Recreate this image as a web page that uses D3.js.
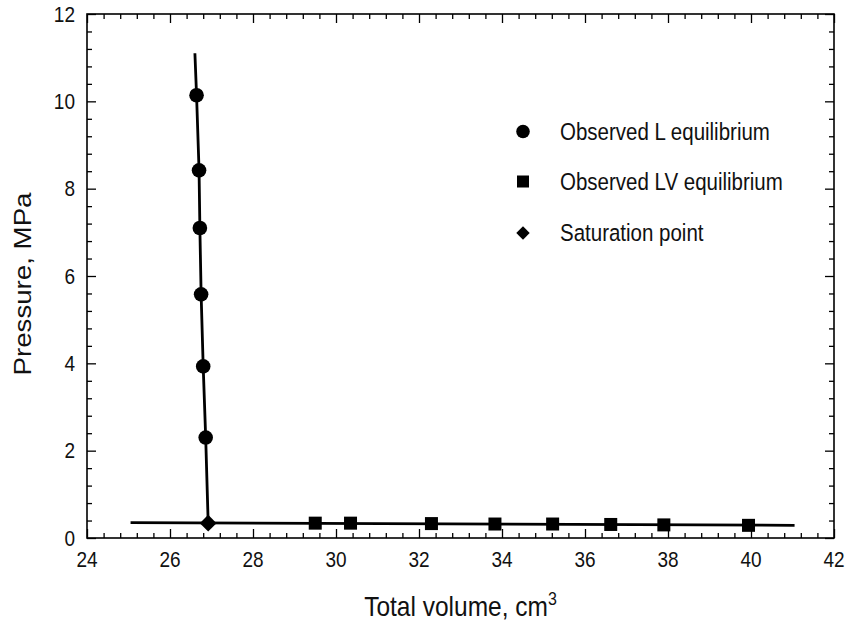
<!DOCTYPE html>
<html><head><meta charset="utf-8">
<script src="https://cdn.jsdelivr.net/npm/d3@7"></script>
<style>body{margin:0;background:#fff}svg{display:block}text{font-family:"Liberation Sans",Arial,sans-serif}</style>
</head><body><svg id="c" width="849" height="625"></svg>
<script>
const lVol = [26.64, 26.70, 26.72, 26.75, 26.80, 26.86];
const lPres = [10.14, 8.42, 7.10, 5.58, 3.93, 2.30];
const lvVol = [29.5, 30.35, 32.3, 33.83, 35.22, 36.62, 37.9, 39.94];
const lvPres = [0.34, 0.34, 0.33, 0.32, 0.32, 0.31, 0.30, 0.29];
const satVol = [26.92];
const satPres = [0.34];
const fitLVol = [26.60, 26.64, 26.70, 26.72, 26.75, 26.80, 26.86, 26.92];
const fitLPres = [11.1, 10.14, 8.42, 7.10, 5.58, 3.93, 2.30, 0.34];
const fitLVVol = [25.05, 41.05];
const fitLVPres = [0.35, 0.29];
const xTicks = [24, 26, 28, 30, 32, 34, 36, 38, 40, 42];
const yTicks = [0, 2, 4, 6, 8, 10, 12];
const legendLabels = ["Observed L equilibrium", "Observed LV equilibrium", "Saturation point"];

const SY = 1.13; // vertical stretch of the reference text
const svg = d3.select("#c");
const L = 87, R = 834, T = 14, B = 538;
const x = d3.scaleLinear().domain([24, 42]).range([L, R]);
const y = d3.scaleLinear().domain([0, 12]).range([B, T]);
const g = svg.append("g");

const minorX = d3.range(24, 42.001, 0.4).filter(v => Math.abs(v/2 - Math.round(v/2)) > 1e-6);
const minorY = d3.range(0, 12.001, 0.4).filter(v => Math.abs(v/2 - Math.round(v/2)) > 1e-6);

function ticks(axisGen, tr, vals, size) {
  const a = g.append("g").attr("transform", tr)
    .call(axisGen.tickValues(vals).tickSizeInner(size).tickSizeOuter(0).tickFormat(""));
  a.select(".domain").remove();
  a.selectAll(".tick line").attr("stroke", "#000").attr("stroke-width", 1.3);
  a.selectAll("text").remove();
  return a;
}
ticks(d3.axisBottom(x), `translate(0,${B})`, xTicks, -9);
ticks(d3.axisBottom(x), `translate(0,${B})`, minorX, -5);
ticks(d3.axisTop(x), `translate(0,${T})`, xTicks, -9);
ticks(d3.axisTop(x), `translate(0,${T})`, minorX, -5);
ticks(d3.axisLeft(y), `translate(${L},0)`, yTicks, -9);
ticks(d3.axisLeft(y), `translate(${L},0)`, minorY, -5);
ticks(d3.axisRight(y), `translate(${R},0)`, yTicks, -9);
ticks(d3.axisRight(y), `translate(${R},0)`, minorY, -5);

// tick labels
const TF = 19;
g.selectAll(".xl").data(xTicks).join("text")
  .attr("transform", d => `translate(${x(d)},566.5) scale(1,${SY})`)
  .attr("text-anchor", "middle").attr("font-size", TF).attr("fill", "#111").text(d => d);
g.selectAll(".yl").data(yTicks).join("text")
  .attr("transform", d => `translate(75,${y(d) + 7.6}) scale(1,${SY})`)
  .attr("text-anchor", "end").attr("font-size", TF).attr("fill", "#111").text(d => d);

g.append("rect").attr("x", L).attr("y", T).attr("width", R - L).attr("height", B - T)
  .attr("fill", "none").attr("stroke", "#000").attr("stroke-width", 1.6);

const line = d3.line().x(d => x(d[0])).y(d => y(d[1]));
g.append("path").datum(d3.zip(fitLVVol, fitLVPres)).attr("d", line)
  .attr("fill", "none").attr("stroke", "#000").attr("stroke-width", 2.8);
g.append("path").datum(d3.zip(fitLVol, fitLPres)).attr("d", line)
  .attr("fill", "none").attr("stroke", "#000").attr("stroke-width", 2.8);

g.selectAll(".lp").data(d3.zip(lVol, lPres)).join("circle")
  .attr("cx", d => x(d[0])).attr("cy", d => y(d[1])).attr("r", 7.3).attr("fill", "#000");
g.selectAll(".lvp").data(d3.zip(lvVol, lvPres)).join("rect")
  .attr("x", d => x(d[0]) - 6.5).attr("y", d => y(d[1]) - 6.5).attr("width", 13).attr("height", 13).attr("fill", "#000");
g.selectAll(".sp").data(d3.zip(satVol, satPres)).join("path")
  .attr("d", d3.symbol().type(d3.symbolSquare).size(140)())
  .attr("transform", d => `translate(${x(d[0])},${y(d[1])}) rotate(45)`)
  .attr("fill", "#000");

// legend
const lg = svg.append("g");
const ly0 = [131.5, 181.5, 233];
lg.append("circle").attr("cx", 523).attr("cy", ly0[0]).attr("r", 6.8).attr("fill", "#000");
lg.append("rect").attr("x", 517).attr("y", ly0[1] - 6).attr("width", 12).attr("height", 12).attr("fill", "#000");
lg.append("path").attr("d", d3.symbol().type(d3.symbolSquare).size(90)())
  .attr("transform", `translate(523,${ly0[2]}) rotate(45)`).attr("fill", "#000");
legendLabels.forEach((t, i) => {
  lg.append("text").attr("transform", `translate(560,${ly0[i] + 8.3}) scale(1,${SY})`)
    .attr("font-size", 20.5).attr("fill", "#111").text(t);
});

// axis titles
const xt = svg.append("text").attr("transform", `translate(${(L + R) / 2},616) scale(1,${SY})`)
  .attr("text-anchor", "middle").attr("font-size", 24.5).attr("fill", "#111");
xt.append("tspan").text("Total volume, cm");
xt.append("tspan").attr("dy", -10).attr("font-size", 16).text("3");
svg.append("text").attr("transform", `translate(31,284) scale(1,${SY}) rotate(-90)`).attr("text-anchor", "middle")
  .attr("font-size", 24.5).attr("fill", "#111").text("Pressure, MPa");
</script></body></html>
